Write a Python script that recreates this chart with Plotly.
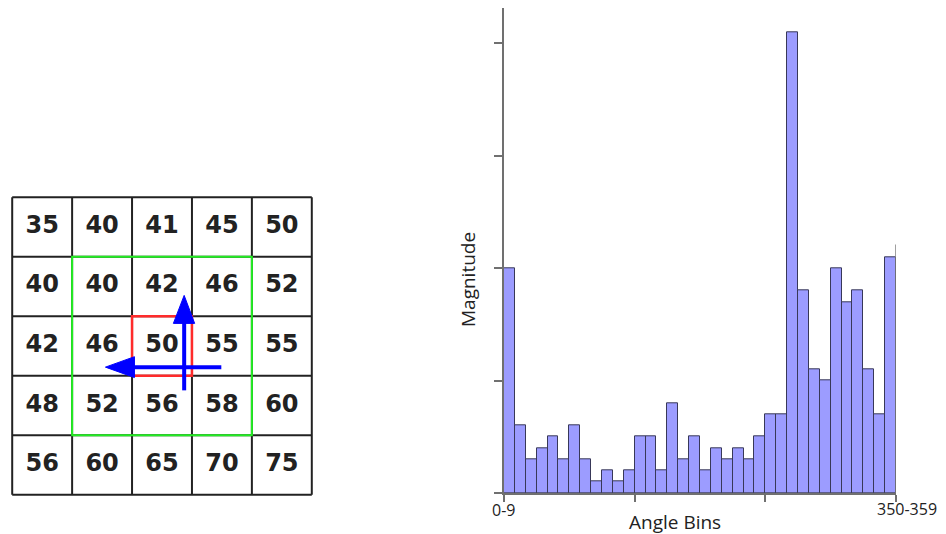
import plotly.graph_objects as go

# ---- data ----
grid_values = [
    [35, 40, 41, 45, 50],
    [40, 40, 42, 46, 52],
    [42, 46, 50, 55, 55],
    [48, 52, 56, 58, 60],
    [56, 60, 65, 70, 75],
]
bin_labels = [f"{a}-{a+9}" for a in range(0, 360, 10)]
magnitudes = [2.0, 0.6, 0.3, 0.4, 0.5, 0.3, 0.6, 0.3, 0.1, 0.2, 0.1, 0.2,
              0.5, 0.5, 0.2, 0.8, 0.3, 0.5, 0.2, 0.4, 0.3, 0.4, 0.3, 0.5,
              0.7, 0.7, 4.1, 1.8, 1.1, 1.0, 2.0, 1.7, 1.8, 1.1, 0.7, 2.1]
first_label = "0-9"
last_label = "350-359"

# page body has an 8px margin: draw the figure 8px smaller and shift coordinates
OFF = 8
W, H = 946 - OFF, 534 - OFF


def px(x):
    return (x - OFF) / W


def py(y):
    return 1 - (y - OFF) / H


fig = go.Figure()

# ---- histogram ----
fig.add_trace(go.Bar(
    x=list(range(len(magnitudes))), y=magnitudes,
    marker=dict(color="#9c9cff", line=dict(color="#383858", width=1)),
    hovertext=bin_labels, xaxis="x", yaxis="y", showlegend=False,
))

# ---- grid numbers ----
n = len(grid_values)
xs, ys, ts = [], [], []
for r, row in enumerate(grid_values):
    for c, v in enumerate(row):
        xs.append(c + 0.5); ys.append(r + 0.5); ts.append(str(v))
fig.add_trace(go.Scatter(
    x=xs, y=ys, text=ts, mode="text", xaxis="x2", yaxis="y2",
    textfont=dict(family="DejaVu Sans", size=24, color="#222222", weight="bold"),
    showlegend=False, hoverinfo="skip",
))

shapes = []
for i in range(n + 1):
    shapes.append(dict(type="line", xref="x2", yref="y2", x0=i, x1=i, y0=0, y1=n,
                       line=dict(color="#222222", width=2)))
    shapes.append(dict(type="line", xref="x2", yref="y2", x0=0, x1=n, y0=i, y1=i,
                       line=dict(color="#222222", width=2)))
shapes.append(dict(type="rect", xref="x2", yref="y2", x0=1, x1=4, y0=1, y1=4,
                   line=dict(color="#22ee22", width=2)))
shapes.append(dict(type="rect", xref="x2", yref="y2", x0=2, x1=3, y0=2, y1=3,
                   line=dict(color="#ff2b2b", width=2.5)))
blue = "#0000ff"
shapes.append(dict(type="line", xref="x2", yref="y2", x0=3.49, x1=2.0, y0=2.855, y1=2.855,
                   line=dict(color=blue, width=4)))
shapes.append(dict(type="path", xref="x2", yref="y2",
                   path="M 1.556,2.855 L 2.04,2.68 L 2.04,3.03 Z",
                   fillcolor=blue, line=dict(color=blue, width=1)))
shapes.append(dict(type="line", xref="x2", yref="y2", x0=2.87, x1=2.87, y0=3.245, y1=2.1,
                   line=dict(color=blue, width=4)))
shapes.append(dict(type="path", xref="x2", yref="y2",
                   path="M 2.87,1.65 L 2.69,2.12 L 3.045,2.12 Z",
                   fillcolor=blue, line=dict(color=blue, width=1)))
shapes.append(dict(type="line", xref="x", yref="y", x0=35.5, x1=35.5, y0=0, y1=2.21,
                   line=dict(color="#808080", width=1.5)))

label_font = dict(family="Open Sans", size=19, color="#222222")
tick_font = dict(family="Open Sans", size=16, color="#222222")
annotations = [
    dict(text="Magnitude", x=px(468), y=py(280), xref="paper", yref="paper",
         textangle=-90, showarrow=False, font=label_font, xanchor="center", yanchor="middle"),
    dict(text="Angle Bins", x=px(675), y=py(522), xref="paper", yref="paper",
         showarrow=False, font=label_font, xanchor="center", yanchor="middle"),
    dict(text=first_label, x=px(503), y=py(510), xref="paper", yref="paper",
         showarrow=False, font=tick_font, xanchor="center", yanchor="middle"),
    dict(text=last_label, x=px(907), y=py(509), xref="paper", yref="paper",
         showarrow=False, font=tick_font, xanchor="center", yanchor="middle"),
]

fig.update_layout(
    width=W, height=H, margin=dict(l=0, r=0, t=0, b=0),
    paper_bgcolor="white", plot_bgcolor="white",
    bargap=0,
    xaxis=dict(domain=[px(504), px(896)], range=[-0.5, 35.5],
               tickvals=[-0.5, 11.5, 23.5, 35.5], showticklabels=False,
               ticks="outside", ticklen=7, tickcolor="#707070", tickwidth=1.5,
               showline=True, linecolor="#707070", linewidth=1.5,
               showgrid=False, zeroline=False, fixedrange=True),
    yaxis=dict(domain=[py(493), py(8.3)], range=[0, 4.31],
               tickvals=[0, 1, 2, 3, 4], showticklabels=False,
               ticks="outside", ticklen=8, tickcolor="#707070", tickwidth=1.5,
               showline=True, linecolor="#707070", linewidth=1.5,
               showgrid=False, zeroline=False, fixedrange=True),
    xaxis2=dict(domain=[px(11), px(313)], range=[-0.02, 5.02], visible=False,
                anchor="y2", fixedrange=True),
    yaxis2=dict(domain=[py(496), py(196)], range=[5.02, -0.02], visible=False,
                anchor="x2", fixedrange=True),
    shapes=shapes, annotations=annotations,
)

fig.write_html("out.html")
